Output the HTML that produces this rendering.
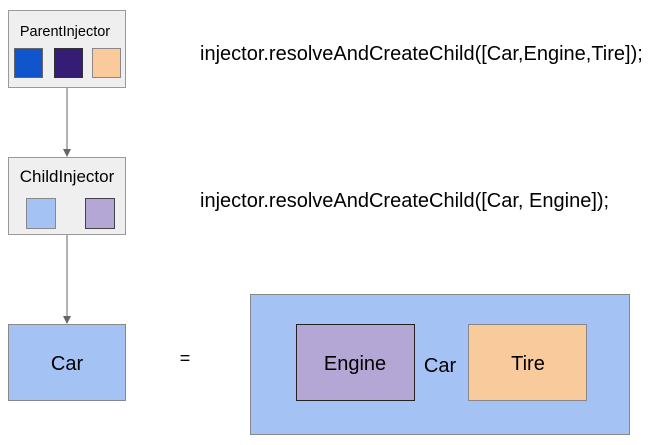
<!DOCTYPE html>
<html><head><meta charset="utf-8"><style>
html,body{margin:0;padding:0;background:#fff;width:653px;height:445px;overflow:hidden}
text{font-family:"Liberation Sans",Arial,sans-serif;fill:#000}
</style></head><body>
<svg width="653" height="445" viewBox="0 0 653 445" xmlns="http://www.w3.org/2000/svg">
<rect x="8.5" y="10.5" width="117" height="77" fill="#efefef" stroke="#999" stroke-width="1"/>
<text x="65" y="36" font-size="14.5" text-anchor="middle">ParentInjector</text>
<rect x="14.5" y="48.5" width="28" height="29" fill="#1155cc" stroke="#666"/>
<rect x="54.5" y="48.5" width="28" height="29" fill="#351c75" stroke="#333"/>
<rect x="92.5" y="48.5" width="28" height="29" fill="#f9cb9c" stroke="#888"/>
<line x1="67" y1="87" x2="67" y2="150" stroke="#999" stroke-width="1.5"/>
<polygon points="63,149 71,149 67,157" fill="#666"/>
<rect x="8.5" y="157.5" width="117" height="77" fill="#efefef" stroke="#999"/>
<text x="67" y="182" font-size="17" text-anchor="middle">ChildInjector</text>
<rect x="26.5" y="198.5" width="29" height="30" fill="#a4c2f4" stroke="#888"/>
<rect x="85.5" y="198.5" width="29" height="30" fill="#b4a7d6" stroke="#444"/>
<line x1="67" y1="235" x2="67" y2="317" stroke="#999" stroke-width="1.5"/>
<polygon points="63,316 71,316 67,324" fill="#666"/>
<rect x="8.5" y="324.5" width="117" height="76" fill="#a4c2f4" stroke="#888"/>
<text x="67" y="370" font-size="20" text-anchor="middle">Car</text>
<text x="185" y="364" font-size="18" text-anchor="middle">=</text>
<text x="200" y="60" font-size="20">injector.resolveAndCreateChild([Car,Engine,Tire]);</text>
<text x="200" y="207" font-size="20">injector.resolveAndCreateChild([Car, Engine]);</text>
<rect x="250.5" y="294.5" width="379" height="140" fill="#a4c2f4" stroke="#888"/>
<rect x="296.5" y="324.5" width="118" height="76" fill="#b4a7d6" stroke="#222"/>
<text x="355" y="370" font-size="20" text-anchor="middle">Engine</text>
<text x="440" y="372" font-size="20" text-anchor="middle">Car</text>
<rect x="468.5" y="324.5" width="118" height="76" fill="#f9cb9c" stroke="#888"/>
<text x="528" y="370" font-size="20" text-anchor="middle">Tire</text>
</svg>
</body></html>
